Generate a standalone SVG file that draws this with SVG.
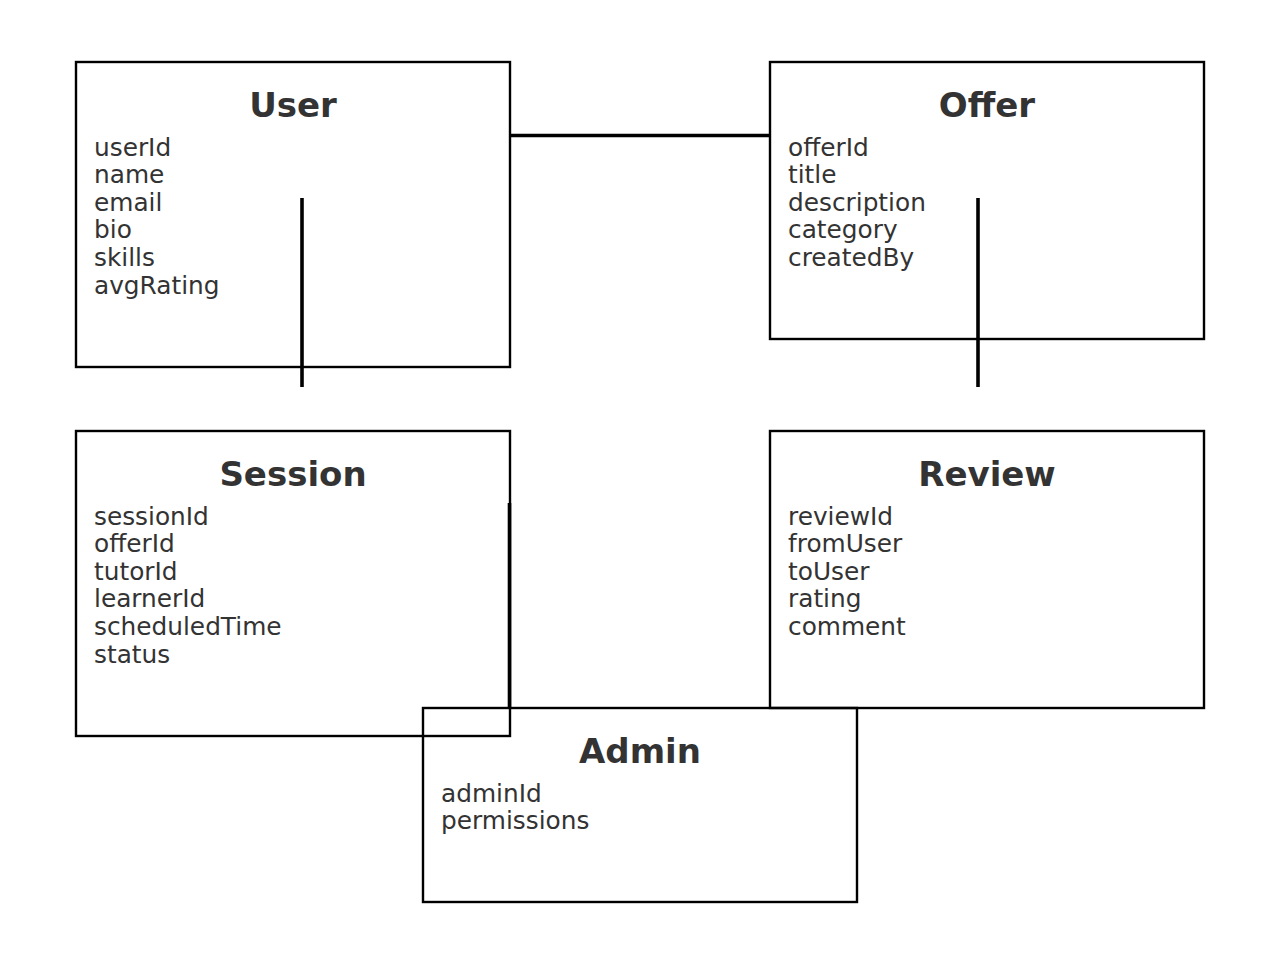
<svg xmlns="http://www.w3.org/2000/svg" width="1280" height="964" viewBox="0 0 1280 964">
<style>
.box{fill:none;stroke:#000;stroke-width:2.4}
.title{font-family:"DejaVu Sans",sans-serif;font-weight:bold;font-size:34px;fill:#333;text-anchor:middle}
.attr{font-family:"DejaVu Sans",sans-serif;font-size:24.8px;fill:#333}
.edge{stroke:#000;stroke-width:3.6;fill:none}
</style>
<rect width="1280" height="964" fill="#fff"/>
<g id="User">
<rect class="box" x="76" y="62" width="434" height="305"/>
<text class="title" x="293" y="117">User</text>
<text class="attr" x="94" y="155.5">userId</text>
<text class="attr" x="94" y="183.1">name</text>
<text class="attr" x="94" y="210.7">email</text>
<text class="attr" x="94" y="238.3">bio</text>
<text class="attr" x="94" y="265.9">skills</text>
<text class="attr" x="94" y="293.5">avgRating</text>
</g>
<g id="Offer">
<rect class="box" x="770" y="62" width="434" height="277"/>
<text class="title" x="987" y="117">Offer</text>
<text class="attr" x="788" y="155.5">offerId</text>
<text class="attr" x="788" y="183.1">title</text>
<text class="attr" x="788" y="210.7">description</text>
<text class="attr" x="788" y="238.3">category</text>
<text class="attr" x="788" y="265.9">createdBy</text>
</g>
<g id="Session">
<rect class="box" x="76" y="431" width="434" height="305"/>
<text class="title" x="293" y="486">Session</text>
<text class="attr" x="94" y="524.5">sessionId</text>
<text class="attr" x="94" y="552.1">offerId</text>
<text class="attr" x="94" y="579.7">tutorId</text>
<text class="attr" x="94" y="607.3">learnerId</text>
<text class="attr" x="94" y="634.9">scheduledTime</text>
<text class="attr" x="94" y="662.5">status</text>
</g>
<g id="Review">
<rect class="box" x="770" y="431" width="434" height="277"/>
<text class="title" x="987" y="486">Review</text>
<text class="attr" x="788" y="524.5">reviewId</text>
<text class="attr" x="788" y="552.1">fromUser</text>
<text class="attr" x="788" y="579.7">toUser</text>
<text class="attr" x="788" y="607.3">rating</text>
<text class="attr" x="788" y="634.9">comment</text>
</g>
<g id="Admin">
<rect class="box" x="423" y="708" width="434" height="194"/>
<text class="title" x="640" y="763">Admin</text>
<text class="attr" x="441" y="801.5">adminId</text>
<text class="attr" x="441" y="829.1">permissions</text>
</g>
<g id="connectors">
<line class="edge" x1="509" y1="135.5" x2="771" y2="135.5"/>
<line class="edge" x1="302" y1="198" x2="302" y2="387"/>
<line class="edge" x1="978" y1="198" x2="978" y2="387"/>
<line class="edge" x1="509.5" y1="503" x2="509.5" y2="708"/>
</g>
</svg>
